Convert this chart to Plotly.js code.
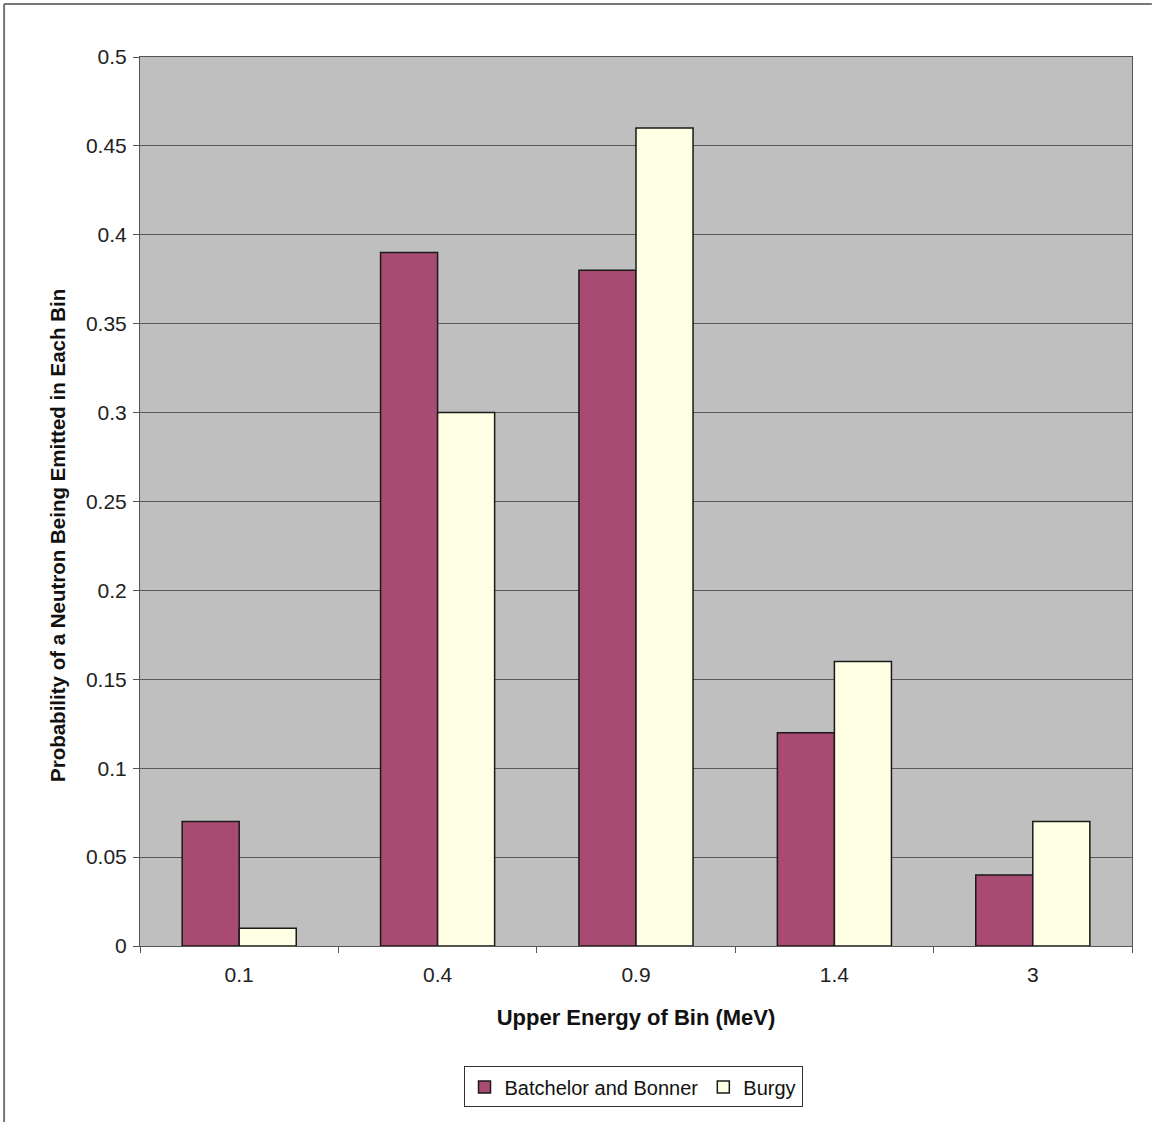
<!DOCTYPE html>
<html>
<head>
<meta charset="utf-8">
<script src="https://cdn.plot.ly/plotly-3.0.1.min.js"></script>
<style>
html,body{margin:0;padding:0;background:#fff;}
#chart{width:1154px;height:1122px;}
</style>
</head>
<body>
<div id="chart"></div>
<script>
const categories = ["0.1", "0.4", "0.9", "1.4", "3"];
const batchelorBonner = [0.07, 0.39, 0.38, 0.12, 0.04];
const burgy = [0.01, 0.30, 0.46, 0.16, 0.07];
const yTicks = [0, 0.05, 0.1, 0.15, 0.2, 0.25, 0.3, 0.35, 0.4, 0.45, 0.5];
const yTickText = ["0", "0.05", "0.1", "0.15", "0.2", "0.25", "0.3", "0.35", "0.4", "0.45", "0.5"];
const yTitle = "Probability of a Neutron Being Emitted in Each Bin";
const xTitle = "Upper Energy of Bin (MeV)";

const font = "'Liberation Sans', Arial, sans-serif";

const traces = [
  {
    type: "bar",
    name: "Batchelor and Bonner",
    x: categories,
    y: batchelorBonner,
    marker: {color: "#a84a72", line: {color: "#1a1a1a", width: 1.5}}
  },
  {
    type: "bar",
    name: "Burgy",
    x: categories,
    y: burgy,
    marker: {color: "#ffffe4", line: {color: "#1a1a1a", width: 1.5}}
  }
];

const layout = {
  width: 1154,
  height: 1122,
  paper_bgcolor: "#ffffff",
  plot_bgcolor: "#bfbfbf",
  margin: {l: 140, r: 22, t: 57, b: 176},
  barmode: "group",
  bargap: 0.425,
  bargroupgap: 0,
  font: {family: font, size: 21, color: "#222"},
  xaxis: {
    type: "category",
    tickson: "boundaries",
    ticks: "outside",
    ticklen: 6,
    tickcolor: "#555",
    ticklabelstandoff: 10,
    showline: true,
    linecolor: "#555",
    linewidth: 1,
    mirror: true,
    showgrid: false,
    tickfont: {family: font, size: 21, color: "#222"},
    title: {text: xTitle, font: {family: font, size: 22, color: "#111", weight: "bold"}, standoff: 24}
  },
  yaxis: {
    range: [0, 0.5],
    tickvals: yTicks,
    ticktext: yTickText,
    ticks: "outside",
    ticklen: 6,
    tickcolor: "#555",
    ticklabelstandoff: 2,
    showline: true,
    linecolor: "#555",
    linewidth: 1,
    mirror: true,
    showgrid: true,
    gridcolor: "#5a5a5a",
    gridwidth: 1,
    zeroline: false,
    tickfont: {family: font, size: 21, color: "#222"}
  },
  annotations: [
    {
      text: yTitle, textangle: -90, showarrow: false,
      xref: "paper", yref: "paper", x: -0.0837, y: 0.4623,
      xanchor: "center", yanchor: "middle",
      font: {family: font, size: 20.5, color: "#111", weight: "bold"}
    }
  ],
  legend: {
    orientation: "h",
    x: 0.497,
    xanchor: "center",
    y: -0.1586,
    yanchor: "middle",
    bordercolor: "#333",
    borderwidth: 1,
    bgcolor: "#ffffff",
    font: {family: font, size: 20, color: "#111"},
    itemwidth: 30,
    traceorder: "normal"
  },
  shapes: [
    {type: "line", xref: "paper", yref: "paper", x0: -0.137, x1: -0.137, y0: -0.2, y1: 1.0596, line: {color: "#777", width: 2}},
    {type: "line", xref: "paper", yref: "paper", x0: -0.137, x1: 1.02, y0: 1.0596, y1: 1.0596, line: {color: "#777", width: 2}}
  ]
};

Plotly.newPlot("chart", traces, layout, {displayModeBar: false, staticPlot: true});
</script>
</body>
</html>
